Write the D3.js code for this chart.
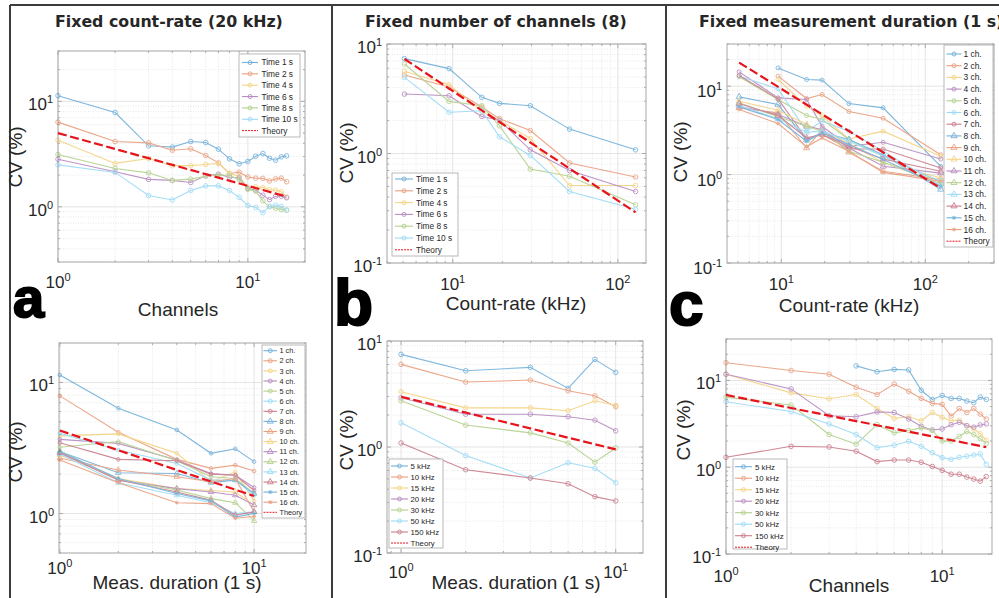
<!DOCTYPE html>
<html>
<head>
<meta charset="utf-8">
<title>CV panels</title>
<style>
body{margin:0;background:#fff;}
text{font-family:"Liberation Sans",Arial,sans-serif;fill:#262626;}
</style>
</head>
<body>
<script src="https://cdn.jsdelivr.net/npm/d3@7"></script>
<script>

// ---- data ----
var channels = [1,2,3,4,5,6,7,8,9,10,11,12,13,14,15,16];
var countRates = [5.1, 9.5, 15, 19.2, 29.5, 51, 128]; // kHz
var durations = [1,2,4,6,8,10]; // s

var timeNames = ["Time 1 s","Time 2 s","Time 4 s","Time 6 s","Time 8 s","Time 10 s"];
var chNames = ["1 ch.","2 ch.","3 ch.","4 ch.","5 ch.","6 ch.","7 ch.","8 ch.","9 ch.","10 ch.","11 ch.","12 ch.","13 ch.","14 ch.","15 ch.","16 ch."];
var rateNames = ["5 kHz","10 kHz","15 kHz","20 kHz","30 kHz","50 kHz","150 kHz"];

// a: fixed count-rate, CV vs channels, one row per measurement time
var cvA = [
  [11.3,7.84,3.79,3.68,4.16,4.07,3.52,2.85,2.56,2.69,3.02,3.2,2.89,2.77,2.98,3.04],
  [6.35,4.16,4.04,3.44,3.55,3.07,2.61,2.07,2.13,1.92,1.87,1.86,1.76,1.84,1.87,1.73],
  [4.28,2.58,2.87,2.46,2.46,2.52,2.58,2.07,1.95,1.52,1.55,1.52,1.46,1.44,1.39,1.24],
  [2.83,2.15,1.82,1.78,1.70,1.97,2.04,1.91,1.88,1.49,1.44,1.29,1.17,1.26,1.26,1.22],
  [3.13,2.31,2.10,1.78,1.83,1.95,2.01,1.98,1.82,1.47,1.41,1.14,1.0,0.97,0.94,0.93],
  [2.5,2.12,1.28,1.16,1.43,1.58,1.58,1.43,1.23,1.03,0.99,0.88,1.01,1.04,1.01,0.93]
];
var theoryA = [[1,5.0],[16,1.25]];

// b: fixed channels (8), CV vs count-rate
var cvB = [
  [7.35,5.96,3.26,2.87,2.73,1.67,1.08],
  [5.21,4.05,2.66,2.08,1.62,0.82,0.61],
  [5.63,4.25,2.43,2.01,1.37,0.51,0.51],
  [3.49,3.37,2.18,2.01,1.08,0.70,0.45],
  [6.57,2.99,2.73,1.79,0.72,0.62,0.34],
  [4.96,2.38,2.46,1.42,0.96,0.45,0.31]
];
var theoryB = [[5.1,7.3],[128,0.29]];

// c: fixed duration (1 s), CV vs count-rate, one row per channel count
var cvC = [
  [null,16.1,11.9,11.7,6.36,5.69,1.24],
  [null,13.0,7.25,8.05,5.17,4.34,1.68],
  [null,11.9,5.94,4.58,2.53,3.1,1.61],
  [14.5,7.38,7.06,3.52,2.09,2.32,1.50],
  [12.8,7.06,4.65,4.2,2.49,1.61,0.82],
  [13.0,9.33,3.1,4.02,3.1,1.84,0.74],
  [13.2,7.19,2.53,2.84,1.95,1.95,1.19],
  [7.57,6.2,2.45,3.01,2.49,1.68,0.68],
  [5.69,4.99,2.0,3.23,1.79,1.09,0.88],
  [6.76,5.35,3.68,3.1,2.28,1.36,0.92],
  [5.94,4.78,3.52,3.23,2.0,1.24,1.04],
  [6.48,4.5,3.52,3.1,1.84,1.38,0.79],
  [6.04,4.27,3.01,3.1,2.38,1.61,0.84],
  [6.36,4.65,2.6,2.84,2.09,1.5,1.09],
  [5.83,4.2,2.38,2.96,2.19,1.48,0.74],
  [5.44,3.78,2.06,2.6,1.84,1.06,0.84]
];
var theoryC = [[5.1,18.5],[128,0.7]];

// d: CV vs measurement duration, one row per channel count
var cvD = [
  [11.4,6.36,4.34,2.88,3.12,2.49],
  [7.9,4.17,2.59,2.21,2.34,2.11],
  [3.91,4.05,2.88,1.75,2.08,1.25],
  [3.68,3.43,2.56,2.02,1.96,1.58],
  [3.2,3.54,2.53,1.91,1.85,1.42],
  [4.09,3.05,2.41,1.8,1.8,1.38],
  [3.47,2.59,2.53,2.0,1.96,1.5],
  [2.97,2.05,2.02,1.72,1.8,1.42],
  [2.64,2.15,1.91,1.75,1.85,1.03],
  [2.8,1.85,1.55,1.5,1.46,1.16],
  [2.91,1.8,1.55,1.46,1.38,1.16],
  [3.0,1.8,1.51,1.3,1.21,0.88],
  [2.85,1.72,1.38,1.21,1.0,1.03],
  [2.91,1.8,1.46,1.26,0.97,1.03],
  [2.97,1.85,1.42,1.25,0.94,1.0],
  [2.56,1.72,1.21,1.19,0.92,0.95]
];
var theoryD = [[1,4.3],[10,1.36]];

// e: CV vs measurement duration, one row per count-rate
var cvE = [
  [7.48,5.24,5.64,3.57,6.71,5.06],
  [6.02,4.1,4.28,3.39,3.04,2.4],
  [3.32,2.34,2.34,2.2,2.73,2.48],
  [2.91,2.04,2.04,1.93,1.79,1.42],
  [2.73,1.61,1.36,1.09,0.72,0.98],
  [1.69,0.83,0.51,0.71,0.63,0.46],
  [1.09,0.61,0.51,0.45,0.34,0.31]
];
var theoryE = [[1,2.98],[10,0.95]];

// f: CV vs channels, one row per count-rate
var cvF = [
  [null,null,null,14.7,12.6,13.4,13.2,7.7,6.04,6.7,6.2,6.2,5.78,5.54,6.42,6.04],
  [16.0,13.0,11.8,8.33,6.88,9.09,7.5,6.2,5.44,5.3,3.88,4.74,4.27,4.74,4.09,3.59],
  [11.8,7.19,6.15,6.88,4.74,3.65,3.81,3.43,4.27,3.75,3.43,3.49,3.01,2.76,2.43,2.04],
  [11.8,7.98,3.91,3.81,4.34,4.27,3.59,2.96,2.69,2.76,3.09,3.29,3.01,2.89,3.07,3.15],
  [6.42,5.21,2.38,1.84,3.09,2.49,2.65,2.84,2.65,2.0,2.0,2.26,2.58,2.38,2.13,1.87],
  [5.68,4.38,3.15,2.38,1.68,1.79,1.99,1.74,1.47,1.29,1.23,1.30,1.34,1.38,1.42,1.08],
  [1.30,1.74,1.71,1.53,1.16,1.21,1.21,1.14,1.02,0.92,0.83,0.83,0.77,0.73,0.69,0.78]
];
var theoryF = [[1,6.8],[16,1.7]];

var colors = ["#0072BD","#D95319","#EDB120","#7E2F8E","#77AC30","#4DBEEE","#A2142F"];
var red = "#e8141c";

var W = 999, H = 598;
var svg = d3.select("body").append("svg").attr("width", W).attr("height", H);

function markerOf(i, n){
  if(n <= 7 || i < 7) return "o";
  if(i < 14) return "^";
  return "*";
}

function drawMarker(g, type, cx, cy, col, r){
  if(type == "o"){
    g.append("circle").attr("cx", cx).attr("cy", cy).attr("r", r)
      .attr("fill", "none").attr("stroke", col).attr("stroke-width", 0.9);
  } else if(type == "^"){
    g.append("path").attr("transform", "translate(" + cx + "," + cy + ")")
      .attr("d", d3.symbol().type(d3.symbolTriangle).size(r*r*4)())
      .attr("fill", "none").attr("stroke", col).attr("stroke-width", 0.9);
  } else {
    var k = r*0.75;
    g.append("path").attr("transform", "translate(" + cx + "," + cy + ")")
      .attr("d", "M" + (-r) + ",0L" + r + ",0M0," + (-r) + "L0," + r +
        "M" + (-k) + "," + (-k) + "L" + k + "," + k + "M" + (-k) + "," + k + "L" + k + "," + (-k))
      .attr("fill", "none").attr("stroke", col).attr("stroke-width", 0.9);
  }
}

function powLabel(sel, e){
  sel.text("10");
  sel.append("tspan").attr("font-size", 11).attr("dy", -7).text(e);
}

function panel(o){
  var x = d3.scaleLog().domain(o.xd).range([o.x0, o.x1]);
  var y = d3.scaleLog().domain(o.yd).range([o.y1, o.y0]);
  var g = svg.append("g");

  g.append("rect").attr("x", o.x0).attr("y", o.y0).attr("width", o.x1 - o.x0).attr("height", o.y1 - o.y0)
    .attr("fill", "#fff");

  var xt = x.ticks(), yt = y.ticks();
  function isMajor(v){ return Math.abs(Math.log10(v) - Math.round(Math.log10(v))) < 1e-6; }

  // grid
  g.selectAll(".gx").data(xt).enter().append("line")
    .attr("x1", function(d){return x(d);}).attr("x2", function(d){return x(d);})
    .attr("y1", o.y0).attr("y2", o.y1)
    .attr("stroke", function(d){return isMajor(d) ? "#d8d8d8" : "#e0e0e0";})
    .attr("stroke-width", 0.7)
    .attr("stroke-dasharray", function(d){return isMajor(d) ? null : "1,1.5";});
  g.selectAll(".gy").data(yt).enter().append("line")
    .attr("y1", function(d){return y(d);}).attr("y2", function(d){return y(d);})
    .attr("x1", o.x0).attr("x2", o.x1)
    .attr("stroke", function(d){return isMajor(d) ? "#d8d8d8" : "#e0e0e0";})
    .attr("stroke-width", 0.7)
    .attr("stroke-dasharray", function(d){return isMajor(d) ? null : "1,1.5";});

  // ticks (inside, all four sides)
  var tc = "#9a9a9a";
  xt.forEach(function(d){
    var L = isMajor(d) ? 4 : 2;
    g.append("line").attr("x1", x(d)).attr("x2", x(d)).attr("y1", o.y1).attr("y2", o.y1 - L).attr("stroke", tc).attr("stroke-width", 0.8);
    g.append("line").attr("x1", x(d)).attr("x2", x(d)).attr("y1", o.y0).attr("y2", o.y0 + L).attr("stroke", tc).attr("stroke-width", 0.8);
  });
  yt.forEach(function(d){
    var L = isMajor(d) ? 4 : 2;
    g.append("line").attr("y1", y(d)).attr("y2", y(d)).attr("x1", o.x0).attr("x2", o.x0 + L).attr("stroke", tc).attr("stroke-width", 0.8);
    g.append("line").attr("y1", y(d)).attr("y2", y(d)).attr("x1", o.x1).attr("x2", o.x1 - L).attr("stroke", tc).attr("stroke-width", 0.8);
  });

  // box
  g.append("rect").attr("x", o.x0).attr("y", o.y0).attr("width", o.x1 - o.x0).attr("height", o.y1 - o.y0)
    .attr("fill", "none").attr("stroke", "#a8a8a8").attr("stroke-width", 1);

  // tick labels
  xt.filter(isMajor).forEach(function(d){
    var t = g.append("text").attr("x", x(d)).attr("y", o.y1 + o.xlab).attr("text-anchor", "middle").attr("font-size", 17);
    powLabel(t, Math.round(Math.log10(d)));
  });
  yt.filter(isMajor).forEach(function(d){
    var t = g.append("text").attr("x", o.x0 - 5).attr("y", y(d) + o.ylab).attr("text-anchor", "end").attr("font-size", 17);
    powLabel(t, Math.round(Math.log10(d)));
  });

  // axis labels
  g.append("text").attr("x", o.xtx).attr("y", o.xty).attr("text-anchor", "middle").attr("font-size", 19).text(o.xtitle);
  g.append("text").attr("transform", "translate(" + o.ytx + "," + o.yty + ") rotate(-90)")
    .attr("text-anchor", "middle").attr("font-size", 19).text("CV (%)");

  // series
  var line = d3.line().defined(function(d){return d[1] != null;})
    .x(function(d){return x(d[0]);}).y(function(d){return y(d[1]);});
  var sg = g.append("g").attr("opacity", 0.5);
  o.series.forEach(function(s, i){
    var pts = o.xs.map(function(v, j){return [v, s[j]];});
    var col = colors[i % 7];
    sg.append("path").attr("d", line(pts)).attr("fill", "none").attr("stroke", col).attr("stroke-width", 1.1);
    var mk = markerOf(i, o.series.length);
    pts.forEach(function(p){
      if(p[1] != null) drawMarker(sg, mk, x(p[0]), y(p[1]), col, o.mr);
    });
  });

  // theory
  g.append("path").attr("d", d3.line().x(function(d){return x(d[0]);}).y(function(d){return y(d[1]);})(o.theory))
    .attr("fill", "none").attr("stroke", red).attr("stroke-width", 2.2).attr("stroke-dasharray", "9,3.5");

  // legend
  var L = o.leg;
  var lg = g.append("g");
  lg.append("rect").attr("x", L.x0).attr("y", L.y0).attr("width", L.x1 - L.x0).attr("height", L.y1 - L.y0)
    .attr("fill", "#fff").attr("stroke", "#a8a8a8").attr("stroke-width", 0.8);
  var names = o.names.concat(["Theory"]);
  names.forEach(function(nm, i){
    var yy = L.first + i*L.step;
    if(i < o.names.length){
      var col = colors[i % 7];
      var eg = lg.append("g").attr("opacity", 0.55);
      eg.append("line").attr("x1", L.lx0).attr("x2", L.lx1).attr("y1", yy).attr("y2", yy)
        .attr("stroke", col).attr("stroke-width", 1.1);
      drawMarker(eg, markerOf(i, o.names.length), (L.lx0 + L.lx1)/2, yy, col, 2);
    } else {
      lg.append("line").attr("x1", L.lx0).attr("x2", L.lx1).attr("y1", yy).attr("y2", yy)
        .attr("stroke", red).attr("stroke-width", 1).attr("stroke-dasharray", "2,1");
    }
    lg.append("text").attr("x", L.tx).attr("y", yy + L.fs*0.36).attr("font-size", L.fs).text(nm);
  });
}

// ---- frame ----
var fr = svg.append("g").attr("stroke", "#3c3c3c").attr("stroke-width", 2);
fr.append("line").attr("x1", 10).attr("x2", 999).attr("y1", 5).attr("y2", 5);
fr.append("line").attr("x1", 10).attr("x2", 10).attr("y1", 5).attr("y2", 598);
fr.append("line").attr("x1", 332).attr("x2", 332).attr("y1", 5).attr("y2", 598);
fr.append("line").attr("x1", 666).attr("x2", 666).attr("y1", 5).attr("y2", 598);

// ---- titles ----
var titles = [["Fixed count-rate (20 kHz)", 55], ["Fixed number of channels (8)", 365], ["Fixed measurement duration (1 s)", 699]];
titles.forEach(function(t){
  svg.append("text").attr("x", t[1]).attr("y", 27).attr("font-size", 15.8)
    .style("font-family", "'DejaVu Sans', Verdana, sans-serif").attr("font-weight", "bold").text(t[0]);
});

// ---- panels ----
panel({x0:58, x1:305, y0:51, y1:262, xd:[1,20], yd:[0.3,30], xlab:26, ylab:9, mr:2.3,
  xs:channels, series:cvA, theory:theoryA, names:timeNames,
  xtitle:"Channels", xtx:178, xty:316, ytx:22, yty:157,
  leg:{x0:239, x1:300, y0:54, y1:137, first:62.5, step:11.35, lx0:242, lx1:258, tx:261.5, fs:8.3}});

panel({x0:387, x1:646, y0:44, y1:263, xd:[4,148], yd:[0.1,10], xlab:27, ylab:9, mr:2.3,
  xs:countRates, series:cvB, theory:theoryB, names:timeNames,
  xtitle:"Count-rate (kHz)", xtx:516, xty:310, ytx:353, yty:153,
  leg:{x0:392, x1:458, y0:173, y1:256, first:179, step:11.8, lx0:395, lx1:413, tx:416, fs:8.3}});

panel({x0:727, x1:994, y0:44, y1:263, xd:[4.2,300], yd:[0.1,30], xlab:27, ylab:11, mr:2,
  xs:countRates, series:cvC, theory:theoryC, names:chNames,
  xtitle:"Count-rate (kHz)", xtx:849, xty:312, ytx:687, yty:152,
  leg:{x0:944, x1:993, y0:45, y1:247, first:54, step:11.7, lx0:946.5, lx1:961.5, tx:963.5, fs:8.4}});

panel({x0:59, x1:306, y0:343, y1:553, xd:[0.99,18.5], yd:[0.5,20], xlab:21, ylab:9, mr:1.8,
  xs:durations, series:cvD, theory:theoryD, names:chNames,
  xtitle:"Meas. duration (1 s)", xtx:177, xty:589, ytx:22, yty:452,
  leg:{x0:262, x1:305, y0:345, y1:518, first:350.7, step:10.1, lx0:263.5, lx1:277, tx:279.5, fs:7.3}});

panel({x0:387, x1:643, y0:341, y1:553, xd:[0.86,13.4], yd:[0.1,10], xlab:25, ylab:9, mr:2.3,
  xs:durations, series:cvE, theory:theoryE, names:rateNames,
  xtitle:"Meas. duration (1 s)", xtx:516, xty:589, ytx:353, yty:440,
  leg:{x0:389, x1:443, y0:459, y1:548, first:466, step:11, lx0:391, lx1:408, tx:410.5, fs:7.8}});

panel({x0:726, x1:992, y0:339, y1:554, xd:[1,17], yd:[0.1,30], xlab:28, ylab:9, mr:2.3,
  xs:channels, series:cvF, theory:theoryF, names:rateNames,
  xtitle:"Channels", xtx:849, xty:592, ytx:690, yty:430,
  leg:{x0:733, x1:787, y0:459, y1:549, first:466.7, step:11.5, lx0:735, lx1:752, tx:755, fs:7.8}});

// ---- panel letters ----
[["a", 13, 317, 56], ["b", 334, 325, 64], ["c", 669, 325, 62]].forEach(function(p){
  svg.append("text").attr("x", p[1]).attr("y", p[2]).attr("font-size", p[3]).attr("font-weight", "bold")
    .style("fill", "#000").attr("stroke", "#000").attr("stroke-width", 2).text(p[0]);
});

</script>
</body>
</html>
